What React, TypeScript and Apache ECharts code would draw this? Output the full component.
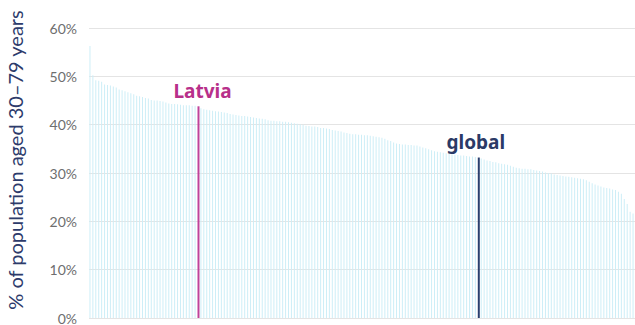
import React, { useEffect, useRef } from "react";
import * as echarts from "echarts";

// Share of population aged 30–79 with hypertension, sorted descending (one bar per country + global)
const values: number[] = [
  56.3, 50.2, 49.2, 49.1, 48.9, 48.3, 48.2, 48.1, 47.9, 47.7,
  47.3, 47.1, 46.9, 46.7, 46.5, 46.3, 46.0, 45.9, 45.7, 45.5,
  45.4, 45.1, 45.0, 45.0, 44.9, 44.8, 44.6, 44.4, 44.3, 44.3,
  44.2, 44.1, 44.0, 44.0, 44.0, 43.9, 43.9, 43.8, 43.4, 43.2,
  43.1, 43.0, 42.9, 42.8, 42.7, 42.6, 42.5, 42.4, 42.2, 42.1,
  42.0, 41.9, 41.8, 41.8, 41.7, 41.6, 41.5, 41.4, 41.3, 41.2,
  41.1, 40.9, 40.8, 40.8, 40.7, 40.7, 40.6, 40.6, 40.5, 40.4,
  40.3, 40.2, 40.1, 40.0, 39.8, 39.7, 39.6, 39.6, 39.5, 39.3,
  39.3, 39.2, 39.1, 38.9, 38.8, 38.7, 38.6, 38.4, 38.3, 38.1,
  38.0, 38.0, 37.9, 37.9, 37.8, 37.8, 37.7, 37.6, 37.5, 37.4,
  37.3, 37.1, 36.8, 36.6, 36.3, 36.1, 36.0, 35.9, 35.9, 35.8,
  35.8, 35.7, 35.7, 35.5, 35.3, 35.1, 34.9, 34.7, 34.5, 34.4,
  34.3, 34.2, 34.1, 34.0, 33.9, 33.8, 33.7, 33.6, 33.6, 33.5,
  33.4, 33.4, 33.3, 33.2, 33.0, 32.8, 32.6, 32.5, 32.3, 32.2,
  32.0, 31.9, 31.8, 31.7, 31.5, 31.3, 31.1, 31.0, 30.9, 30.9,
  30.8, 30.8, 30.6, 30.5, 30.4, 30.3, 30.1, 30.0, 29.9, 29.7,
  29.6, 29.5, 29.4, 29.3, 29.2, 29.1, 29.0, 28.9, 28.8, 28.7,
  28.5, 28.2, 27.9, 27.6, 27.4, 27.2, 27.0, 26.9, 26.8, 26.6,
  26.5, 26.1, 25.7, 24.6, 23.6, 22.0, 21.6,
];

const highlightNames: string[] = ["Latvia", "global"];
const highlightIndex: number[] = [37, 133];
const highlightColors: string[] = ["#c0429a", "#2b3f6e"];
const labelColors: string[] = ["#b8308a", "#2b3a66"];
const yTicks: number[] = [0, 10, 20, 30, 40, 50, 60];
const yTitle = "% of population aged 30–79 years";

export default function App() {
  const ref = useRef<HTMLDivElement>(null);
  useEffect(() => {
    if (!ref.current) return;
    const chart = echarts.init(ref.current, undefined, { renderer: "svg" });
    const categories = values.map((_, i) => {
      const h = highlightIndex.indexOf(i);
      return h >= 0 ? highlightNames[h] : "c" + i;
    });
    const baseData = values.map((v, i) => (highlightIndex.includes(i) ? "-" : v));
    const hlData = values.map((v, i) => {
      const h = highlightIndex.indexOf(i);
      if (h < 0) return "-";
      return {
        value: v,
        itemStyle: { color: highlightColors[h] },
        label: {
          show: true,
          position: "top",
          distance: 6,
          offset: [h === 0 ? 4 : -3, 0],
          formatter: highlightNames[h],
          color: labelColors[h],
          fontFamily: "Noto Sans",
          fontWeight: "bold",
          fontSize: 19,
        },
      };
    });
    chart.setOption({
      animation: false,
      grid: { left: 89, right: 0, top: 28, bottom: 2, containLabel: false },
      xAxis: {
        type: "category",
        data: categories,
        boundaryGap: true,
        axisLine: { show: false },
        axisTick: { show: false },
        axisLabel: { show: false },
      },
      yAxis: {
        type: "value",
        min: yTicks[0],
        max: yTicks[yTicks.length - 1],
        interval: 10,
        axisLine: { show: false },
        axisTick: { show: false },
        splitLine: { lineStyle: { color: "#e4e4e4", width: 1 } },
        axisLabel: {
          formatter: "{value}%",
          color: "#6e6e6e",
          fontFamily: "Lato",
          fontSize: 14,
          margin: 12,
          padding: [0, 0, 5, 0],
        },
      },
      graphic: [
        {
          type: "text",
          x: 15,
          y: 160,
          rotation: Math.PI / 2,
          style: {
            text: yTitle,
            fill: "#2d3b6b",
            font: '20px "Lato"',
            textAlign: "center",
            textVerticalAlign: "middle",
          },
        },
      ],
      series: [
        {
          type: "bar",
          data: baseData,
          barWidth: 1,
          itemStyle: { color: "#cdeef7" },
          silent: true,
        },
        {
          type: "bar",
          data: hlData,
          barWidth: 2,
          barGap: "-100%",
          z: 3,
        },
      ],
    });
    return () => chart.dispose();
  }, []);
  return <div ref={ref} style={{ width: 635, height: 325, position: "absolute", left: 0, top: 0 }} />;
}
